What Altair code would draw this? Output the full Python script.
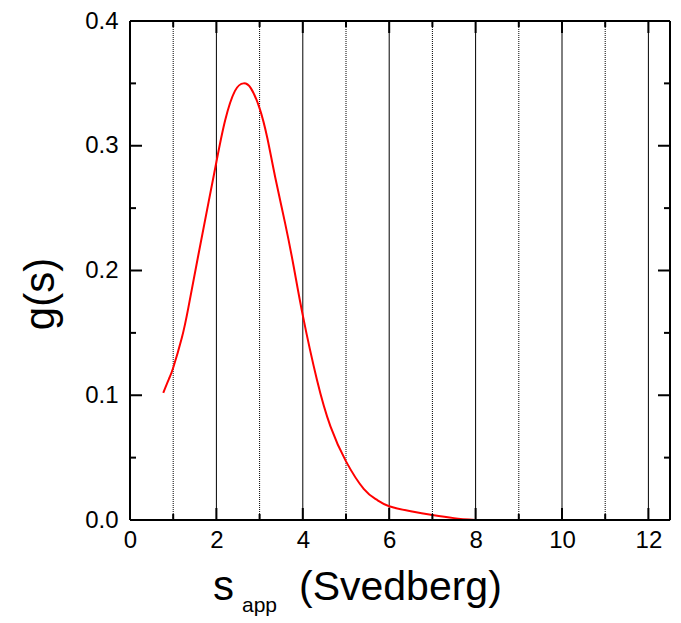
import altair as alt
import pandas as pd

# curve values
s_app = [0.77, 0.9, 1.0, 1.2, 1.35, 1.58, 1.82, 2.0, 2.2, 2.43, 2.63, 2.8, 3.0, 3.18,
         3.36, 3.59, 3.79, 4.0, 4.33, 4.64, 5.0, 5.41, 5.7, 6.0, 6.5, 7.0, 7.5, 8.0]
g_s = [0.102, 0.113, 0.122, 0.146, 0.170, 0.212, 0.255, 0.287, 0.320, 0.344, 0.350, 0.346,
       0.330, 0.306, 0.275, 0.238, 0.203, 0.164, 0.112, 0.075, 0.047, 0.025, 0.0165,
       0.011, 0.007, 0.004, 0.0015, 0.0]

x_labels = [0, 2, 4, 6, 8, 10, 12]
x_minor = [1, 3, 5, 7, 9, 11]
x_grid_solid = [2, 4, 6, 8, 10, 12]
x_grid_dotted = [1, 3, 5, 7, 9, 11]
y_labels = [0.0, 0.1, 0.2, 0.3, 0.4]
y_minor = [0.05, 0.15, 0.25, 0.35]

x_title_parts = ["s", "app", "(Svedberg)"]
y_title = "g(s)"

W, H = 540, 499
FONT = "Liberation Sans"

xs = alt.Scale(domain=[0, 12.5], nice=False, zero=False)
ys = alt.Scale(domain=[0, 0.4], nice=False, zero=False)

curve_df = pd.DataFrame({"s": s_app, "g": g_s})

x_axis = alt.Axis(values=x_labels, ticks=False, domain=False, grid=False,
                  labelFont=FONT, labelFontSize=24, labelColor="black",
                  labelPadding=8, title=None, labelFlush=False)
y_axis = alt.Axis(values=y_labels, ticks=False, domain=False, grid=False,
                  labelFont=FONT, labelFontSize=24, labelColor="black",
                  labelPadding=12, title=None, format=".1f", labelFlush=False)

grid_solid = alt.Chart(pd.DataFrame({"v": x_grid_solid})).mark_rule(
    color="black", strokeWidth=1).encode(
    x=alt.X("v:Q", scale=xs, axis=x_axis))
grid_dot = alt.Chart(pd.DataFrame({"v": x_grid_dotted})).mark_rule(
    color="black", strokeWidth=1, strokeDash=[1, 1]).encode(
    x=alt.X("v:Q", scale=xs))

curve = alt.Chart(curve_df).mark_line(
    color="#ff0000", strokeWidth=2, interpolate="natural").encode(
    x=alt.X("s:Q", scale=xs),
    y=alt.Y("g:Q", scale=ys, axis=y_axis))

def xticks(vals, length):
    d = pd.DataFrame({"v": vals})
    bot = alt.Chart(d).mark_rule(color="black", strokeWidth=2).encode(
        x=alt.X("v:Q", scale=xs), y=alt.value(H), y2=alt.value(H - length))
    top = alt.Chart(d).mark_rule(color="black", strokeWidth=2).encode(
        x=alt.X("v:Q", scale=xs), y=alt.value(0), y2=alt.value(length))
    return [bot, top]

def yticks(vals, length):
    d = pd.DataFrame({"v": vals})
    left = alt.Chart(d).mark_rule(color="black", strokeWidth=2).encode(
        y=alt.Y("v:Q", scale=ys), x=alt.value(0), x2=alt.value(length))
    right = alt.Chart(d).mark_rule(color="black", strokeWidth=2).encode(
        y=alt.Y("v:Q", scale=ys), x=alt.value(W), x2=alt.value(W - length))
    return [left, right]

one = pd.DataFrame({"k": [0]})
frame = [
    alt.Chart(one).mark_rule(color="black", strokeWidth=2).encode(
        x=alt.value(0), y=alt.value(0), y2=alt.value(H)),
    alt.Chart(one).mark_rule(color="black", strokeWidth=2).encode(
        x=alt.value(W), y=alt.value(0), y2=alt.value(H)),
    alt.Chart(one).mark_rule(color="black", strokeWidth=2).encode(
        y=alt.value(0), x=alt.value(0), x2=alt.value(W)),
    alt.Chart(one).mark_rule(color="black", strokeWidth=2).encode(
        y=alt.value(H), x=alt.value(0), x2=alt.value(W)),
]

t_s = alt.Chart(pd.DataFrame({"t": [x_title_parts[0]]})).mark_text(
    font=FONT, fontSize=42, align="left", baseline="alphabetic", color="black").encode(
    text="t:N", x=alt.value(83), y=alt.value(579))
t_app = alt.Chart(pd.DataFrame({"t": [x_title_parts[1]]})).mark_text(
    font=FONT, fontSize=21, align="left", baseline="alphabetic", color="black").encode(
    text="t:N", x=alt.value(112), y=alt.value(591))
t_sv = alt.Chart(pd.DataFrame({"t": [x_title_parts[2]]})).mark_text(
    font=FONT, fontSize=41, align="left", baseline="alphabetic", color="black").encode(
    text="t:N", x=alt.value(169), y=alt.value(579))
t_y = alt.Chart(pd.DataFrame({"t": [y_title]})).mark_text(
    font=FONT, fontSize=42, align="center", baseline="alphabetic", angle=270,
    color="black").encode(
    text="t:N", x=alt.value(-76), y=alt.value(273))

layers = [grid_solid, grid_dot, curve] + xticks(x_labels, 12) + xticks(x_minor, 6) \
    + yticks(y_labels, 12) + yticks(y_minor, 6) + frame + [t_s, t_app, t_sv, t_y]

chart = alt.layer(*layers).properties(
    width=W, height=H,
    autosize=alt.AutoSizeParams(type="none"),
    padding={"left": 130, "top": 21, "right": 11, "bottom": 103},
).configure_view(stroke=None).configure(background="white")

chart.save("out.html", embed_options={"renderer": "svg", "actions": False})
